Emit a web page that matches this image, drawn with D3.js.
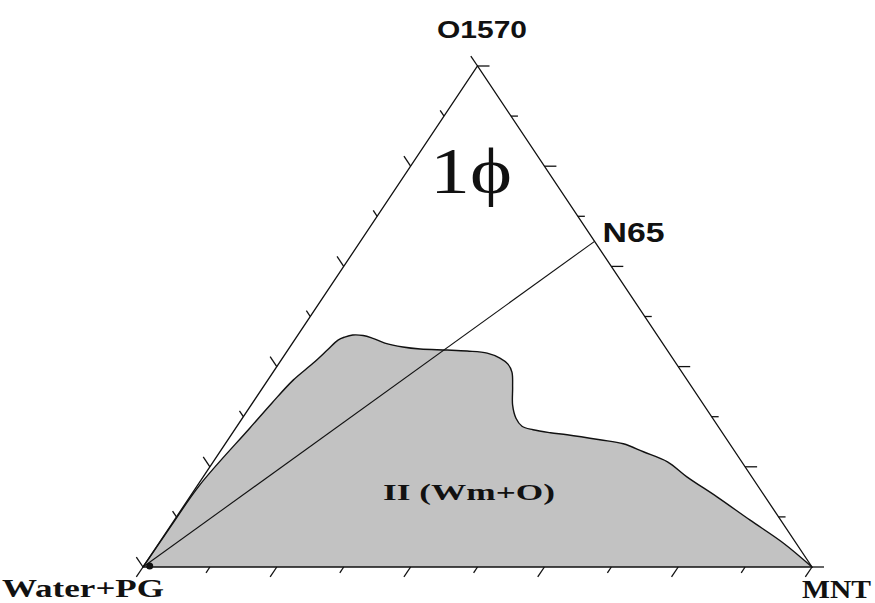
<!DOCTYPE html>
<html>
<head>
<meta charset="utf-8">
<script src="https://cdn.jsdelivr.net/npm/d3@7"></script>
<style>
  html, body { margin: 0; padding: 0; background: #fff; }
  svg { display: block; }
</style>
</head>
<body>
<svg id="chart" width="875" height="603"></svg>
<script>
// Ternary diagram: Water+PG (bottom-left), MNT (bottom-right), O1570 (top).
// Compositions are given as fractions of O1570 (o) and MNT (m); Water+PG = 1 - o - m.

const componentLabels = ["Water+PG", "MNT", "O1570"];
const tickFractions = [0, 0.1, 0.2, 0.3, 0.4, 0.5, 0.6, 0.7, 0.8, 0.9, 1.0];

// Dilution line: from pure Water+PG to the N65 oil/surfactant mixture (65% O1570, 35% MNT)
const dilutionStart = { o: 0, m: 0 };
const n65Point = { o: 0.65, m: 0.35, label: "N65" };

// Boundary of the two-phase region II (Wm+O), traced from Water+PG round to MNT
const twoPhaseO = [0.000, 0.080, 0.164, 0.277, 0.327, 0.373, 0.407, 0.433, 0.453, 0.459, 0.463, 0.462,
                   0.457, 0.447, 0.439, 0.435, 0.433, 0.431, 0.427, 0.417, 0.405, 0.389, 0.359, 0.323,
                   0.297, 0.281, 0.274, 0.268, 0.264, 0.254, 0.246, 0.230, 0.210, 0.180, 0.140, 0.094,
                   0.048, 0.000];
const twoPhaseM = [0.000, 0.001, 0.003, 0.021, 0.029, 0.038, 0.051, 0.059, 0.065, 0.072, 0.082, 0.098,
                   0.114, 0.138, 0.169, 0.197, 0.238, 0.269, 0.301, 0.325, 0.343, 0.357, 0.373, 0.391,
                   0.409, 0.426, 0.446, 0.475, 0.502, 0.556, 0.595, 0.633, 0.679, 0.723, 0.788, 0.860,
                   0.933, 1.000];

const regionLabels = ["1\u03D5", "II (Wm+O)"];

const svg = d3.select("#chart");

const x = d3.scaleLinear().domain([0, 1]).range([143, 812]);
const y = d3.scaleLinear().domain([0, 1]).range([567, 66]);
const project = (o, m) => [x(m + o / 2), y(o)];

const W = project(0, 0), M = project(0, 1), O = project(1, 0);
const unit = (a, b) => {
  const dx = b[0] - a[0], dy = b[1] - a[1], L = Math.hypot(dx, dy);
  return [dx / L, dy / L];
};

// Two-phase region
const boundary = twoPhaseO.map((o, i) => project(o, twoPhaseM[i]));
const boundaryLine = d3.line().curve(d3.curveCatmullRom.alpha(0.5));
svg.append("path")
  .attr("d", boundaryLine(boundary) + "Z")
  .attr("fill", "#c2c2c2")
  .attr("stroke", "none");
svg.append("path")
  .attr("d", boundaryLine(boundary))
  .attr("fill", "none")
  .attr("stroke", "#111")
  .attr("stroke-width", 1.4);

// Triangle frame
svg.append("path")
  .attr("d", d3.line()([W, M, O]) + "Z")
  .attr("fill", "none")
  .attr("stroke", "#111")
  .attr("stroke-width", 1.3);

// Ticks: each axis ticks point outward, parallel to the neighbouring edge
const tickG = svg.append("g").attr("stroke", "#111").attr("stroke-width", 1.3);
const axes = [
  { pos: t => project(0, t), dir: unit(O, W) },          // bottom: Water+PG -> MNT
  { pos: t => project(1 - t, t), dir: unit(W, M) },      // right: O1570 -> MNT
  { pos: t => project(t, 0), dir: unit(M, O) }           // left: Water+PG -> O1570
];
axes.forEach(ax => {
  tickG.selectAll(null)
    .data(tickFractions)
    .join("line")
    .each(function (t, i) {
      const p = ax.pos(t);
      const len = i % 2 === 0 ? 12 : 7;
      d3.select(this)
        .attr("x1", p[0]).attr("y1", p[1])
        .attr("x2", p[0] + ax.dir[0] * len)
        .attr("y2", p[1] + ax.dir[1] * len);
    });
});

// Dilution line Water+PG -> N65
const a = project(dilutionStart.o, dilutionStart.m);
const b = project(n65Point.o, n65Point.m);
svg.append("line")
  .attr("x1", a[0]).attr("y1", a[1])
  .attr("x2", b[0]).attr("y2", b[1])
  .attr("stroke", "#111")
  .attr("stroke-width", 1.1);
svg.append("circle")
  .attr("cx", project(0, 0.01)[0]).attr("cy", project(0, 0.01)[1] - 1)
  .attr("r", 3.5)
  .attr("fill", "#111");

// Labels
const sans = "'Liberation Sans', Arial, sans-serif";
const serif = "'Liberation Serif', 'Times New Roman', serif";

svg.append("text")
  .attr("x", 437).attr("y", 38)
  .attr("font-family", sans).attr("font-weight", "bold").attr("font-size", 24)
  .attr("textLength", 90).attr("lengthAdjust", "spacingAndGlyphs")
  .attr("fill", "#111")
  .text(componentLabels[2]);

svg.append("text")
  .attr("x", b[0] + 8).attr("y", b[1] + 1)
  .attr("font-family", sans).attr("font-weight", "bold").attr("font-size", 27)
  .attr("textLength", 62).attr("lengthAdjust", "spacingAndGlyphs")
  .attr("fill", "#111")
  .text(n65Point.label);

svg.append("text")
  .attr("x", 2).attr("y", 597)
  .attr("font-family", serif).attr("font-weight", "bold").attr("font-size", 25)
  .attr("textLength", 162).attr("lengthAdjust", "spacingAndGlyphs")
  .attr("fill", "#111")
  .text(componentLabels[0]);

svg.append("text")
  .attr("x", 802).attr("y", 598)
  .attr("font-family", serif).attr("font-weight", "bold").attr("font-size", 25)
  .attr("textLength", 69).attr("lengthAdjust", "spacingAndGlyphs")
  .attr("fill", "#111")
  .text(componentLabels[1]);

svg.append("text")
  .attr("x", 430).attr("y", 193)
  .attr("font-family", serif).attr("font-size", 66)
  .attr("textLength", 82).attr("lengthAdjust", "spacingAndGlyphs")
  .attr("fill", "#111")
  .text(regionLabels[0]);

svg.append("text")
  .attr("x", 383).attr("y", 500)
  .attr("font-family", serif).attr("font-weight", "bold").attr("font-size", 24)
  .attr("textLength", 172).attr("lengthAdjust", "spacingAndGlyphs")
  .attr("fill", "#111")
  .text(regionLabels[1]);
</script>
</body>
</html>
